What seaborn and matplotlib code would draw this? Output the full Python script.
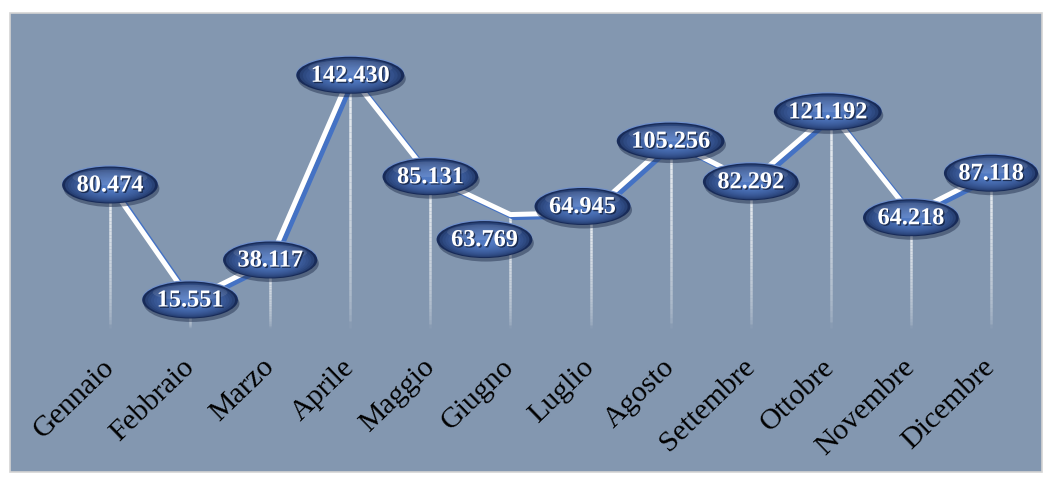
import numpy as np
import pandas as pd
import matplotlib
matplotlib.use("Agg")
import matplotlib.pyplot as plt
import matplotlib.patheffects as pe
import matplotlib.transforms as mtransforms
from matplotlib.patches import Ellipse, Rectangle
from matplotlib.collections import LineCollection
from matplotlib.colors import to_rgb
import seaborn as sns

# Monthly totals
mesi = ["Gennaio", "Febbraio", "Marzo", "Aprile", "Maggio", "Giugno",
        "Luglio", "Agosto", "Settembre", "Ottobre", "Novembre", "Dicembre"]
valori = [80474, 15551, 38117, 142430, 85131, 63769,
          64945, 105256, 82292, 121192, 64218, 87118]

# Badge nudges (pixels) so neighbouring labels don't collide
spost_x = [0, 0, 0, 0, 0, -26, -8, 0, 0, -3, 0, 0]
spost_y = [0, 0, 0, 0, 0, -25, 6, 0, 0, 1, -4, 0]

W, H, DPI = 1048, 479, 100
BG = "#8397B0"
SERIF = ["Liberation Serif", "DejaVu Serif"]

sns.set_style("white")

fig = plt.figure(figsize=(W / DPI, H / DPI), dpi=DPI)
fig.patch.set_facecolor("white")

# chart area panel
fig.patches.append(Rectangle((10 / W, 1 - 472 / H), 1032 / W, 459 / H,
                             transform=fig.transFigure, facecolor=BG,
                             edgecolor="#D4D4D4", lw=1.2, zorder=-10))

ax = fig.add_axes([10 / W, 1 - 335 / H, 1032 / W, 322 / H])
ax.patch.set_alpha(0)
ax.set_zorder(5)

# scale: 0 sits at ~327.5 px, 1 unit = 0.001771 px
px_per_unit = 0.001771
ax.set_ylim((327.5 - 335) / px_per_unit, (327.5 - 13) / px_per_unit)
px_per_idx = 80.09
ax.set_xlim((10 - 110) / px_per_idx, (1042 - 110) / px_per_idx)

df = pd.DataFrame({"mese": mesi, "pos": np.arange(len(mesi)), "valore": valori})

# fading drop lines from each value down to zero
segs, cols = [], []
n = 40
for x, v in zip(df["pos"], df["valore"]):
    ys = np.linspace(0, v, n + 1)
    for k in range(n):
        segs.append([(x, ys[k]), (x, ys[k + 1])])
        a = 0.05 + 0.9 * (k / n) ** 0.5
        cols.append((0.95, 0.96, 0.97, a))
ax.add_collection(LineCollection(segs, colors=cols, linewidths=1.8,
                                 capstyle="butt", zorder=2))

# main line: white with a blue offset shadow
sns.lineplot(data=df, x="pos", y="valore", ax=ax, color="white", lw=3.6,
             zorder=3, solid_joinstyle="miter",
             path_effects=[pe.SimpleLineShadow(offset=(2.8, -2.2),
                                               shadow_color="#4472C4", alpha=1.0),
                           pe.Normal()])

# value badges
dark = np.array(to_rgb("#182B58"))
light = np.array(to_rgb("#5079C2"))
texts = []
for i, v in enumerate(valori):
    lab = f"{v:,}".replace(",", ".")
    t = ax.annotate(lab, xy=(i, v),
                    xytext=(spost_x[i] * 72 / DPI, (spost_y[i] - 1) * 72 / DPI),
                    textcoords="offset points", ha="center", va="center",
                    fontsize=17.5, fontweight="bold", color="white",
                    family=SERIF, zorder=10,
                    path_effects=[pe.SimplePatchShadow(offset=(1, -1),
                                                       shadow_rgbFace="#0B1630",
                                                       alpha=0.7),
                                  pe.Normal()])
    texts.append(t)

fig.canvas.draw()
rend = fig.canvas.get_renderer()
for i, (v, t) in enumerate(zip(valori, texts)):
    tw = t.get_window_extent(rend).width
    ew = (tw + 29) / DPI
    eh = 37 / DPI
    cx, cy = spost_x[i] / DPI, spost_y[i] / DPI
    tr = fig.dpi_scale_trans + mtransforms.ScaledTranslation(i, v, ax.transData)
    # soft drop shadow
    ax.add_patch(Ellipse((cx + 0.015, cy - 0.035), ew, eh, transform=tr,
                         facecolor="#243250", alpha=0.5, lw=0, zorder=5))
    # thin lighter rim on top edge
    ax.add_patch(Ellipse((cx, cy + 0.012), ew, eh, transform=tr,
                         facecolor="#6F8FCB", lw=0, zorder=5.5))
    steps = 14
    for k in range(steps):
        s = 1 - 0.85 * k / steps
        c = dark + (light - dark) * (k / (steps - 1)) ** 0.5
        ax.add_patch(Ellipse((cx, cy - 0.02 * (k / steps)), ew * s, eh * s,
                             transform=tr, facecolor=c, lw=0, zorder=6))
    # glossy highlight
    ax.add_patch(Ellipse((cx, cy + eh * 0.2), ew * 0.78, eh * 0.42,
                         transform=tr, facecolor="white", alpha=0.10,
                         lw=0, zorder=7))

ax.set_xticks(df["pos"], mesi)
ax.tick_params(axis="x", length=0, pad=24)
shift = mtransforms.ScaledTranslation(5 / DPI, 0, fig.dpi_scale_trans)
for tick in ax.xaxis.get_major_ticks():
    lbl = tick.label1
    lbl.set_rotation(44)
    lbl.set_ha("right")
    lbl.set_va("baseline")
    lbl.set_rotation_mode("anchor")
    lbl.set_fontsize(21.5)
    lbl.set_family(SERIF)
    lbl.set_color("black")
    lbl.set_transform(lbl.get_transform() + shift)
ax.set_yticks([])
ax.set_xlabel("")
ax.set_ylabel("")
for sp in ax.spines.values():
    sp.set_visible(False)

fig.savefig("out.png", dpi=DPI, facecolor="white")
